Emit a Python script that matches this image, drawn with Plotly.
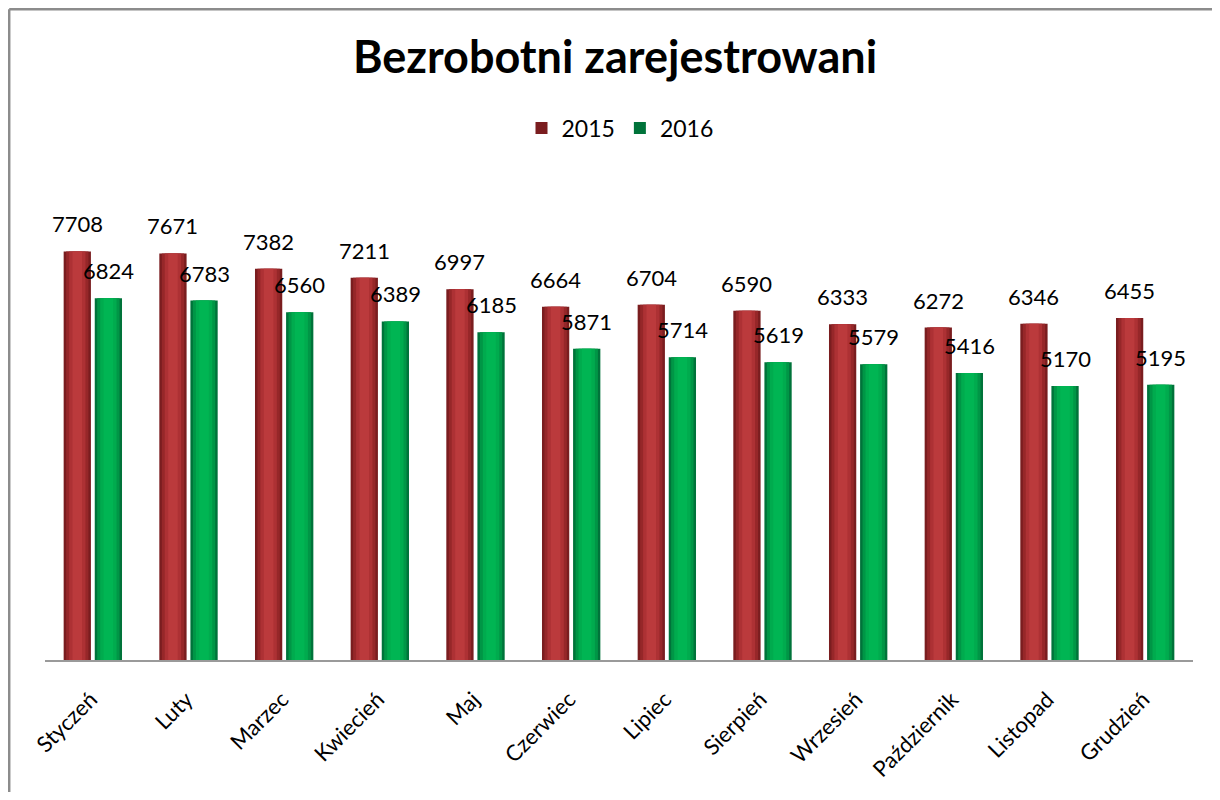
import plotly.graph_objects as go

months = ["Styczeń", "Luty", "Marzec", "Kwiecień", "Maj", "Czerwiec", "Lipiec",
          "Sierpień", "Wrzesień", "Październik", "Listopad", "Grudzień"]
values_2015 = [7708, 7671, 7382, 7211, 6997, 6664, 6704, 6590, 6333, 6272, 6346, 6455]
values_2016 = [6824, 6783, 6560, 6389, 6185, 5871, 5714, 5619, 5579, 5416, 5170, 5195]

# page has 8px body margin -> figure is drawn 8px right/down; keep it inside the window
OFF = 8
W, H = 1220 - 2 * OFF, 800 - 2 * OFF
L = 45 - OFF
R = W - (1193 - OFF)
T = 183 - OFF
B = H - (660 - OFF)
pw, ph = W - L - R, H - T - B


def px_to_paper_y(py):
    return (H - B - (py - OFF)) / ph


font_family = "Lato, 'Open Sans', sans-serif"

BAR_W = 0.285
series = [
    ("2015", values_2015, -0.305, ["#7a1d1f", "#962729", "#ad3134", "#bb3a3c"]),
    ("2016", values_2016, 0.02, ["#00733a", "#009646", "#00ab4e", "#00b553"]),
]
fracs = [1.0, 0.82, 0.6, 0.35]

fig = go.Figure()
for name, vals, off, cols in series:
    for i, (fr, col) in enumerate(zip(fracs, cols)):
        w = BAR_W * fr
        o = off + (BAR_W - w) / 2
        first = i == 0
        fig.add_trace(go.Bar(
            name=name, x=months, y=vals,
            width=w, offset=o,
            marker=dict(color=col, line=dict(width=0)),
            showlegend=first,
            legendgroup=name,
            hoverinfo="x+y+name",
        ))
    # value labels above each bar
    center_shift = (off + BAR_W / 2) * pw / len(months)
    for m, v in zip(months, vals):
        fig.add_annotation(
            x=m, y=v, xref="x", yref="y", text=str(v), showarrow=False,
            xanchor="center", yanchor="bottom", xshift=center_shift, yshift=12,
            font=dict(size=22, color="#000000", family=font_family),
        )

fig.update_layout(
    width=W, height=H,
    margin=dict(l=L, r=R, t=T, b=B, autoexpand=False),
    paper_bgcolor="white", plot_bgcolor="white",
    barmode="overlay",
    title=dict(text="<b>Bezrobotni zarejestrowani</b>", x=(615 - OFF) / W, xanchor="center",
               y=1 - (57 - OFF) / H, yanchor="middle",
               font=dict(size=45, color="#000000", family=font_family)),
    legend=dict(orientation="h", x=(620 - OFF - L) / pw, xanchor="center",
                y=px_to_paper_y(128), yanchor="middle",
                font=dict(size=23, color="#000000", family=font_family),
                itemwidth=30, traceorder="normal"),
    showlegend=True,
    font=dict(family=font_family),
)
fig.update_xaxes(
    showline=True, linecolor="#9a9a9a", linewidth=2,
    tickangle=-45, ticks="", ticklabelstandoff=16, ticklabelshift=-2,
    tickfont=dict(size=22, color="#000000", family=font_family),
    showgrid=False,
)
fig.update_yaxes(range=[0, 9000], visible=False, showgrid=False, zeroline=False)

# chart frame: only the left and top edges are inside the page
frame = dict(color="#8c8c8c", width=2.5)
x_left = (1.2 - L) / pw
y_top = (H - B - 1.2) / ph
fig.add_shape(type="line", xref="paper", yref="paper",
              x0=x_left, x1=x_left, y0=-B / ph, y1=y_top, line=frame, layer="above")
fig.add_shape(type="line", xref="paper", yref="paper",
              x0=x_left, x1=(W - L) / pw, y0=y_top, y1=y_top, line=frame, layer="above")

fig.write_html("out.html")
